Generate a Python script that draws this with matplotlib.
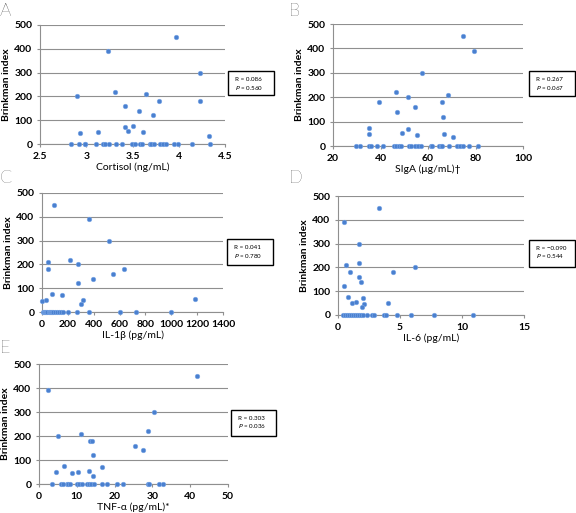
import matplotlib.pyplot as plt
from matplotlib.patches import Rectangle

plt.rcParams['font.family'] = ['Lato', 'DejaVu Sans']

# Panel A - cortisol
cort_x = [2.90, 2.93, 3.13, 3.23, 3.31, 3.415, 3.42, 3.45, 3.50, 3.57, 3.61, 3.65, 3.72, 3.79,
          3.97, 4.23, 4.23, 4.33,
          2.84, 2.92, 2.99, 2.99, 3.11, 3.18, 3.20, 3.25, 3.32, 3.39, 3.49, 3.53, 3.58, 3.60,
          3.69, 3.70, 3.73, 3.80, 3.83, 3.86, 3.95, 3.99, 4.14, 4.34]
cort_y = [200, 45, 50, 390, 220, 160, 70, 55, 75, 140, 50, 210, 120, 180,
          450, 180, 300, 35,
          0, 0, 0, 0, 0, 0, 0, 0, 0, 0, 0, 0, 0, 0,
          0, 0, 0, 0, 0, 0, 0, 0, 0, 0]

# Panel B - SIgA
siga_x = [35.0, 35.0, 39.2, 46.7, 47.1, 49.1, 51.4, 51.6, 54.4, 55.2, 57.3, 65.9, 66.5, 66.7,
          68.4, 70.4, 74.9, 79.2,
          29.8, 31.2, 35.0, 36.0, 38.7, 41.2, 45.6, 46.7, 47.7, 48.8, 52.2, 53.0, 54.5, 55.8,
          57.1, 61.3, 61.8, 64.6, 65.5, 66.1, 68.8, 72.2, 73.6, 74.7, 77.2, 81.0]
siga_y = [75, 50, 180, 220, 140, 55, 200, 70, 160, 45, 300, 180, 120, 50,
          210, 35, 450, 390,
          0, 0, 0, 0, 0, 0, 0, 0, 0, 0, 0, 0, 0, 0,
          0, 0, 0, 0, 0, 0, 0, 0, 0, 0, 0, 0]

# Panel C - IL-1b
il1_x = [2, 28, 95, 43, 49, 79, 157, 213, 275, 275, 303, 318, 367, 396, 519, 552, 632, 1182,
         8, 15, 23, 30, 39, 54, 60, 69, 75, 85, 100, 116, 131, 146, 162, 203, 267, 360,
         606, 727, 997]
il1_y = [45, 50, 450, 210, 180, 75, 70, 220, 200, 120, 35, 50, 390, 140, 300, 160, 180, 55,
         0, 0, 0, 0, 0, 0, 0, 0, 0, 0, 0, 0, 0, 0, 0, 0, 0, 0,
         0, 0, 0]

# Panel D - IL-6
il6_x = [0.45, 3.29, 1.66, 0.67, 1.66, 0.99, 1.69, 1.87, 4.42, 6.19, 0.45, 0.83, 1.12, 1.45,
         2.01, 2.06, 1.95, 4.04,
         0.37, 0.53, 0.69, 0.85, 1.01, 1.18, 1.34, 1.50, 1.66, 1.82, 1.98, 2.33, 2.78, 2.94,
         3.67, 3.86, 4.79, 5.92, 7.77, 10.90]
il6_y = [390, 450, 300, 210, 220, 180, 160, 140, 180, 200, 120, 75, 50, 55,
         70, 45, 35, 50,
         0, 0, 0, 0, 0, 0, 0, 0, 0, 0, 0, 0, 0, 0,
         0, 0, 0, 0, 0, 0]

# Panel E - TNF-a
tnf_x = [2.5, 4.5, 5.0, 6.7, 8.6, 10.2, 11.2, 13.2, 13.5, 14.1, 14.3, 14.4, 16.6, 25.5,
         27.6, 28.8, 30.4, 41.8,
         3.4, 5.9, 6.4, 7.4, 7.8, 8.2, 10.1, 10.5, 11.3, 12.7, 13.3, 13.8, 14.5, 16.7,
         18.0, 20.7, 22.2, 28.8, 29.0, 31.7, 32.8]
tnf_y = [390, 50, 200, 75, 45, 50, 210, 55, 180, 180, 120, 35, 70, 160,
         140, 220, 300, 450,
         0, 0, 0, 0, 0, 0, 0, 0, 0, 0, 0, 0, 0, 0,
         0, 0, 0, 0, 0, 0, 0]

W, H = 576, 513
fig = plt.figure(figsize=(W / 100, H / 100), dpi=100)

panels = [
    # letter, x, y, xlim, xticks, xlabel, r, p, axes px box (l, r, top, bottom), stats box px
    ('A', cort_x, cort_y, (2.5, 4.5), [2.5, 3, 3.5, 4, 4.5], 'Cortisol (ng/mL)', '0.086', '0.560',
     (40, 225, 25, 144), (228, 274, 71, 95), (0, 3)),
    ('B', siga_x, siga_y, (20, 100), [20, 40, 60, 80, 100], 'SIgA (\u03bcg/mL)\u2020', '0.267', '0.067',
     (333, 523, 24, 146), (529, 575, 71, 96), (289, 3)),
    ('C', il1_x, il1_y, (0, 1400), [0, 200, 400, 600, 800, 1000, 1200, 1400], 'IL-1\u03b2 (pg/mL)',
     '0.041', '0.780', (42, 223, 193, 312), (227, 273, 239, 265), (0, 170)),
    ('D', il6_x, il6_y, (0, 15), [0, 5, 10, 15], 'IL-6 (pg/mL)', '\u22120.090', '0.544',
     (338, 524, 196, 315), (529, 575, 240, 267), (289, 170)),
    ('E', tnf_x, tnf_y, (0, 50), [0, 10, 20, 30, 40, 50], 'TNF-\u03b1 (pg/mL)*', '0.303', '0.036',
     (39, 228, 364, 484), (231, 276, 410, 436), (0, 340)),
]

grid_c = '#8f8f8f'
for letter, xs, ys, xlim, xticks, xlabel, r, p, box, sbox, lpos in panels:
    l, rr, t, b = box
    ax = fig.add_axes([l / W, 1 - b / H, (rr - l) / W, (b - t) / H])
    ax.scatter(xs, ys, s=11, color='#4a80cf', edgecolors='#7aa6e6', linewidths=0.4,
               zorder=3, clip_on=False)
    ax.set_xlim(*xlim)
    ax.set_ylim(0, 500)
    ax.set_xticks(xticks)
    ax.set_xticklabels([f'{v:g}' for v in xticks])
    ax.set_yticks([0, 100, 200, 300, 400, 500])
    ax.grid(axis='y', color=grid_c, linewidth=0.8)
    ax.set_axisbelow(True)
    for s in ['top', 'right']:
        ax.spines[s].set_visible(False)
    ax.spines['left'].set_color(grid_c)
    ax.spines['bottom'].set_color(grid_c)
    ax.spines['left'].set_linewidth(0.8)
    ax.spines['bottom'].set_linewidth(0.8)
    ax.tick_params(axis='both', length=2.5, width=0.8, color=grid_c, labelsize=7.5, pad=3)
    for lab in ax.get_xticklabels() + ax.get_yticklabels():
        lab.set_fontweight('bold')
    ax.set_xlabel(xlabel, fontsize=7.5, labelpad=1)
    ax.set_ylabel('Brinkman index', fontsize=7.5, fontweight='bold', labelpad=2)

    # stats box
    bl, br, bt, bb = sbox
    fig.patches.append(Rectangle((bl / W, 1 - bb / H), (br - bl) / W, (bb - bt) / H,
                                 transform=fig.transFigure, fill=False,
                                 edgecolor='black', linewidth=1.0))
    fig.text((bl + 7) / W, 1 - (bt + 8.5) / H, f'R = {r}', fontsize=4.5, va='center')
    fig.text((bl + 7) / W, 1 - (bt + 16.5) / H, f'$P$ = {p}', fontsize=4.5, va='center')

    fig.text(lpos[0] / W, 1 - lpos[1] / H, letter, fontsize=13, va='top', ha='left',
             fontweight='light')

fig.savefig('out.png', dpi=100)
